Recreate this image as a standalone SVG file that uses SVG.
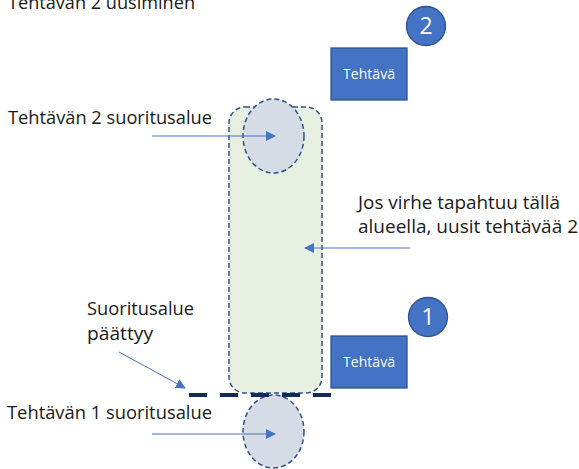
<svg xmlns="http://www.w3.org/2000/svg" width="579" height="469" viewBox="0 0 579 469">
<defs>
<style>
.lbl{font-family:"Open Sans","Liberation Sans",sans-serif;font-size:18px;fill:#1a1a1a}
.box{fill:#4472C4;stroke:#2F528F;stroke-width:1.3}
.boxt{font-family:"Open Sans","Liberation Sans",sans-serif;font-size:14px;fill:#fff;text-anchor:middle}
.num{font-family:"Open Sans","Liberation Sans",sans-serif;font-size:23px;fill:#fff;text-anchor:middle}
.ell{fill:#D6DCE5;stroke:#2F528F;stroke-width:1.5;stroke-dasharray:5 3}
.arr{stroke:#4472C4;stroke-width:1;fill:none;marker-end:url(#ah)}
</style>
<marker id="ah" viewBox="0 0 10 10" refX="9" refY="5" markerWidth="10" markerHeight="10" markerUnits="userSpaceOnUse" orient="auto">
<path d="M0,0 L10,5 L0,10 z" fill="#4472C4"/>
</marker>
</defs>
<rect width="579" height="469" fill="#fff"/>
<text class="lbl" x="8" y="9" textLength="187" lengthAdjust="spacingAndGlyphs">Tehtävän 2 uusiminen</text>
<g id="area">
<rect x="229" y="107" width="93" height="286" rx="16" fill="#E7F0E0" stroke="#2F528F" stroke-width="1.5" stroke-dasharray="5 3"/>
</g>
<g id="scope2"><ellipse class="ell" cx="273.5" cy="136" rx="30.5" ry="37"/></g>
<g id="scope1"><ellipse class="ell" cx="273.5" cy="431.5" rx="30.5" ry="36.5"/></g>
<g id="endline"><line x1="189" y1="395" x2="331" y2="395" stroke="#13295A" stroke-width="4" stroke-dasharray="18 13"/></g>
<g id="task2">
<rect class="box" x="331" y="48" width="76" height="52"/>
<text class="boxt" x="369" y="79" textLength="52" lengthAdjust="spacingAndGlyphs">Tehtävä</text>
</g>
<g id="badge2">
<circle cx="426" cy="26" r="19.5" fill="#4472C4" stroke="#2F528F" stroke-width="1.3"/>
<text class="num" x="426" y="34">2</text>
</g>
<g id="task1">
<rect class="box" x="331" y="336" width="76" height="52"/>
<text class="boxt" x="369" y="367" textLength="52" lengthAdjust="spacingAndGlyphs">Tehtävä</text>
</g>
<g id="badge1">
<circle cx="428" cy="317" r="19.5" fill="#4472C4" stroke="#2F528F" stroke-width="1.3"/>
<text class="num" x="428" y="325">1</text>
</g>
<g id="labels">
<text class="lbl" x="8" y="124" textLength="204" lengthAdjust="spacingAndGlyphs">Tehtävän 2 suoritusalue</text>
<text class="lbl" x="358" y="209" textLength="202" lengthAdjust="spacingAndGlyphs">Jos virhe tapahtuu tällä</text>
<text class="lbl" x="358" y="233" textLength="220" lengthAdjust="spacingAndGlyphs">alueella, uusit tehtävää 2</text>
<text class="lbl" x="87" y="315" textLength="107" lengthAdjust="spacingAndGlyphs">Suoritusalue</text>
<text class="lbl" x="87" y="340" textLength="66" lengthAdjust="spacingAndGlyphs">päättyy</text>
<text class="lbl" x="7" y="419" textLength="205" lengthAdjust="spacingAndGlyphs">Tehtävän 1 suoritusalue</text>
</g>
<g id="connectors">
<line class="arr" x1="152" y1="136" x2="275" y2="136"/>
<line class="arr" x1="410" y1="248" x2="305" y2="248"/>
<line class="arr" x1="119" y1="352" x2="185" y2="388"/>
<line class="arr" x1="152" y1="434" x2="275" y2="434"/>
</g>
</svg>
